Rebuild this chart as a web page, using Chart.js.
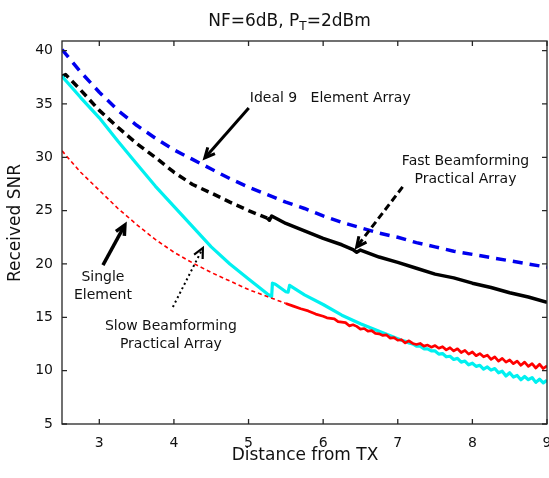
<!DOCTYPE html>
<html><head><meta charset="utf-8">
<script src="https://cdn.jsdelivr.net/npm/chart.js@4.4.1/dist/chart.umd.min.js"></script>
<style>html,body{margin:0;padding:0;background:#fff;}#wrap{width:549px;height:478px;}</style>
</head><body><div id="wrap"><canvas id="c" width="549" height="478"></canvas></div>
<script>
// ---- data ----
const xTickValues = [3,4,5,6,7,8,9];
const yTickValues = [5,10,15,20,25,30,35,40];

const idealX = [2.5,2.75,3,3.25,3.5,3.75,4,4.25,4.5,4.75,5,5.25,5.5,5.75,6,6.25,6.5,6.75,7,7.25,7.5,7.75,8,8.25,8.5,8.75,9];
const idealY = [40.1,38.0,36.1,34.4,33.0,31.8,30.7,29.8,28.9,28.0,27.2,26.5,25.8,25.2,24.5,23.9,23.4,22.9,22.5,22.0,21.6,21.2,20.9,20.6,20.3,20.0,19.7];

const fastX = [2.5,2.55,2.75,3,3.25,3.5,3.75,4,4.25,4.5,4.75,5,5.25,5.28,5.31,5.5,5.75,6,6.25,6.4,6.45,6.5,6.75,7,7.25,7.5,7.75,8,8.25,8.5,8.75,9];
const fastY = [37.6,37.75,36.3,34.4,32.8,31.3,30.0,28.6,27.45,26.65,25.8,25.0,24.3,24.1,24.5,23.8,23.1,22.4,21.8,21.35,21.1,21.3,20.65,20.15,19.6,19.05,18.7,18.2,17.8,17.3,16.9,16.4];

const slowX = [2.5,2.75,3,3.25,3.5,3.75,4,4.25,4.5,4.75,5,5.25,5.31,5.32,5.36,5.5,5.53,5.55,5.75,6,6.25,6.5,6.75,7.0,
  7.05,7.1,7.15,7.2,7.25,7.3,7.35,7.4,7.45,7.5,7.55,7.6,7.65,7.7,7.75,7.8,7.85,7.9,7.95,8.0,
  8.05,8.1,8.15,8.2,8.25,8.3,8.35,8.4,8.45,8.5,8.55,8.6,8.65,8.7,8.75,8.8,8.85,8.9,8.95,9.0];
const slowY = [37.6,35.6,33.7,31.5,29.4,27.3,25.4,23.5,21.6,20.0,18.6,17.2,16.95,18.2,18.1,17.4,17.35,18.0,17.1,16.2,15.2,14.4,13.7,13.0,
  12.85,12.75,12.6,12.5,12.3,12.3,12.05,12.05,11.85,11.85,11.55,11.6,11.3,11.35,11.05,11.15,10.8,10.9,10.55,10.7,
  10.4,10.5,10.15,10.35,10.05,10.2,9.8,9.95,9.5,9.8,9.4,9.55,9.15,9.45,9.15,9.35,8.9,9.2,8.85,9.1];

const singleX = [2.5,2.75,3,3.25,3.5,3.75,4,4.25,4.5,4.75,5,5.25,5.5,5.6,5.7,5.8,5.9,
  6.0,6.05,6.1,6.15,6.2,6.25,6.3,6.35,6.4,6.45,6.5,6.55,6.6,6.65,6.7,6.75,6.8,6.85,6.9,6.95,
  7.0,7.05,7.1,7.15,7.2,7.25,7.3,7.35,7.4,7.45,7.5,7.55,7.6,7.65,7.7,7.75,7.8,7.85,7.9,7.95,
  8.0,8.05,8.1,8.15,8.2,8.25,8.3,8.35,8.4,8.45,8.5,8.55,8.6,8.65,8.7,8.75,8.8,8.85,8.9,8.95,9.0];
const singleY = [30.6,28.6,26.9,25.2,23.7,22.3,21.1,20.1,19.2,18.4,17.6,16.95,16.3,16.05,15.8,15.6,15.3,
  15.1,14.95,14.9,14.85,14.6,14.55,14.5,14.2,14.3,14.15,13.9,13.95,13.7,13.75,13.5,13.45,13.3,13.35,13.05,13.1,
  12.85,12.9,12.6,12.8,12.55,12.45,12.55,12.3,12.4,12.2,12.35,12.1,12.25,11.95,12.15,11.85,12.05,11.7,11.9,11.55,
  11.75,11.4,11.6,11.3,11.45,11.05,11.3,10.9,11.15,10.8,11.0,10.65,10.9,10.5,10.8,10.4,10.65,10.25,10.6,10.2,10.45];

const seriesNames = ["Ideal 9 Element Array","Fast Beamforming Practical Array","Slow Beamforming Practical Array","Single Element"];

// ---- annotations (data coordinates) ----
const notes = [
  {lines:["Ideal 9   Element Array"], x:5.017, y:35.56, align:'left'},
  {lines:["Fast Beamforming","Practical Array"], x:7.908, y:29.66, align:'center'},
  {lines:["Single","Element"], x:3.049, y:18.78, align:'center'},
  {lines:["Slow Beamforming","Practical Array"], x:3.959, y:14.19, align:'center'}
];
const arrows = [
  {from:[5.003,34.62], to:[4.414,29.94], dash:[], w:3},
  {from:[7.065,27.22], to:[6.449,21.59], dash:[7,4], w:3},
  {from:[3.049,19.9], to:[3.343,23.66], dash:[], w:3.5},
  {from:[3.986,15.97], to:[4.388,21.5], dash:[2,3], w:2}
];

const FONT = '"DejaVu Sans", sans-serif';
const pts = (xs, ys) => xs.map((x,i)=>({x:x, y:ys[i]}));

const deco = {
  id:'deco',
  afterDraw(chart){
    const {ctx, chartArea:a, scales:{x, y}} = chart;
    ctx.save();
    ctx.strokeStyle = '#262626'; ctx.lineWidth = 1.3; ctx.setLineDash([]);
    ctx.strokeRect(a.left, a.top, a.right - a.left, a.bottom - a.top);
    const L = 5;
    ctx.beginPath();
    xTickValues.forEach(v=>{const p=x.getPixelForValue(v); ctx.moveTo(p,a.bottom); ctx.lineTo(p,a.bottom-L); ctx.moveTo(p,a.top); ctx.lineTo(p,a.top+L);});
    yTickValues.forEach(v=>{const p=y.getPixelForValue(v); ctx.moveTo(a.left,p); ctx.lineTo(a.left+L,p); ctx.moveTo(a.right,p); ctx.lineTo(a.right-L,p);});
    ctx.stroke();

    ctx.fillStyle = '#111';
    const parts = [['NF=6dB, P',17,0],['T',12,4],['=2dBm',17,0]];
    let total = 0;
    parts.forEach(p=>{ctx.font = p[1]+'px '+FONT; total += ctx.measureText(p[0]).width;});
    let tx = 289.5 - total/2;
    ctx.textBaseline = 'alphabetic'; ctx.textAlign = 'left';
    parts.forEach(p=>{ctx.font = p[1]+'px '+FONT; ctx.fillText(p[0], tx, 26 + p[2]); tx += ctx.measureText(p[0]).width;});

    ctx.font = '17px '+FONT; ctx.textAlign = 'center'; ctx.textBaseline = 'middle';
    ctx.fillText('Distance from TX', 305, 456);
    ctx.save(); ctx.translate(16, 223); ctx.rotate(-Math.PI/2); ctx.fillText('Received SNR', 0, 0); ctx.restore();

    ctx.font = '14px '+FONT;
    notes.forEach(n=>{
      ctx.textAlign = n.align;
      const px = x.getPixelForValue(n.x), py = y.getPixelForValue(n.y);
      n.lines.forEach((t,i)=>ctx.fillText(t, px, py + i*18));
    });
    ctx.strokeStyle = '#000';
    arrows.forEach(ar=>{
      const x0 = x.getPixelForValue(ar.from[0]), y0 = y.getPixelForValue(ar.from[1]);
      const x1 = x.getPixelForValue(ar.to[0]), y1 = y.getPixelForValue(ar.to[1]);
      const ang = Math.atan2(y1-y0, x1-x0);
      ctx.lineWidth = ar.w; ctx.setLineDash(ar.dash); ctx.lineCap = 'butt';
      ctx.beginPath(); ctx.moveTo(x0,y0); ctx.lineTo(x1 - Math.cos(ang)*2, y1 - Math.sin(ang)*2); ctx.stroke();
      ctx.setLineDash([]); ctx.lineWidth = Math.max(ar.w, 2.2); ctx.lineJoin = 'miter';
      const hl = 11, hw = 0.45;
      ctx.beginPath();
      ctx.moveTo(x1 - hl*Math.cos(ang - hw), y1 - hl*Math.sin(ang - hw));
      ctx.lineTo(x1, y1);
      ctx.lineTo(x1 - hl*Math.cos(ang + hw), y1 - hl*Math.sin(ang + hw));
      ctx.stroke();
    });
    ctx.restore();
  }
};

new Chart(document.getElementById('c'), {
  type: 'line',
  data: {
    datasets: [
      {label: seriesNames[3], data: pts(singleX, singleY), borderColor: '#ff0000', borderWidth: 2.6, pointRadius: 0, order: 0,
       segment: {borderDash: c => c.p0.parsed.x < 5.3 ? [4,3] : [], borderWidth: c => c.p0.parsed.x < 5.3 ? 1.6 : 2.7}},
      {label: seriesNames[2], data: pts(slowX, slowY), borderColor: '#00f0f0', borderWidth: 3.2, pointRadius: 0, order: 1},
      {label: seriesNames[1], data: pts(fastX, fastY), borderColor: '#000000', borderWidth: 3.5, pointRadius: 0, order: 2,
       segment: {borderDash: c => c.p0.parsed.x < 5.2 ? [8,5] : []}},
      {label: seriesNames[0], data: pts(idealX, idealY), borderColor: '#0000ee', borderWidth: 3.5, pointRadius: 0, order: 3,
       borderDash: [10,7]}
    ]
  },
  options: {
    responsive: false, animation: false, devicePixelRatio: 1,
    layout: {padding: {top: 41, right: 2, left: 0, bottom: 0}},
    plugins: {legend: {display: false}, tooltip: {enabled: false}, title: {display: false}},
    elements: {line: {tension: 0, borderCapStyle: 'butt', borderJoinStyle: 'round'}},
    scales: {
      x: {type: 'linear', min: 2.5, max: 9,
          grid: {display: false, drawTicks: false}, border: {display: false},
          afterBuildTicks: s => { s.ticks = xTickValues.map(v=>({value: v})); },
          afterFit: s => { s.height = 54; s.paddingLeft = 0; s.paddingRight = 0; },
          ticks: {padding: 11, color: '#111', font: {family: FONT, size: 14}, maxRotation: 0, autoSkip: false, callback: v => String(v)}},
      y: {type: 'linear', min: 5, max: 40.9,
          grid: {display: false, drawTicks: false}, border: {display: false},
          afterBuildTicks: s => { s.ticks = yTickValues.map(v=>({value: v})); },
          afterFit: s => { s.width = 62; s.paddingTop = 0; s.paddingBottom = 0; },
          ticks: {padding: 9, color: '#111', font: {family: FONT, size: 14}, autoSkip: false, callback: v => String(v)}}
    }
  },
  plugins: [deco]
});
</script></body></html>
